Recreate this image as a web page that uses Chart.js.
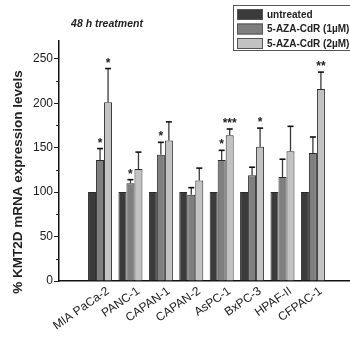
<!DOCTYPE html>
<html>
<head>
<meta charset="utf-8">
<script src="https://cdn.jsdelivr.net/npm/chart.js@4"></script>
<style>
  html, body { margin: 0; padding: 0; background: #fff; }
  #wrap { width: 350px; height: 340px; }
</style>
</head>
<body>
<div id="wrap"><canvas id="myCanvas" width="350" height="340"></canvas></div>
<script>
const cellLines = ['MIA PaCa-2', 'PANC-1', 'CAPAN-1', 'CAPAN-2', 'AsPC-1', 'BxPC-3', 'HPAF-II', 'CFPAC-1'];

const untreated = [100, 100, 100, 100, 100, 100, 100, 100];
const aza1 = [136, 110, 142, 97, 136, 119, 117, 144];
const aza2 = [201, 126, 158, 113, 164, 151, 146, 216];

const untreatedErr = [0, 0, 0, 0, 0, 0, 0, 0];
const aza1Err = [13, 4, 14, 8, 11, 9, 20, 18];
const aza2Err = [38, 19, 21, 14, 7, 21, 28, 19];

const aza1Stars = ['*', '*', '*', '', '*', '', '', ''];
const aza2Stars = ['*', '', '', '', '***', '*', '', '**'];

const yTicks = [0, 50, 100, 150, 200, 250];

const seriesNames = ['untreated', '5-AZA-CdR (1\u00b5M)', '5-AZA-CdR (2\u00b5M)'];
const seriesColors = ['#3b3b3b', '#7f7f7f', '#c2c2c2'];

const toPoints = vals => vals.map((v, i) => ({ x: i, y: v }));

const errPlugin = {
  id: 'errs',
  afterDatasetsDraw(chart) {
    const ctx = chart.ctx;
    const ys = chart.scales.y;
    const errs = [untreatedErr, aza1Err, aza2Err];
    const stars = [null, aza1Stars, aza2Stars];
    chart.data.datasets.forEach((ds, di) => {
      const meta = chart.getDatasetMeta(di);
      meta.data.forEach((bar, i) => {
        const e = errs[di][i];
        if (!e) return;
        const top = ys.getPixelForValue(ds.data[i].y + e);
        ctx.save();
        ctx.strokeStyle = '#3a3a3a';
        ctx.lineWidth = 1.3;
        ctx.beginPath();
        ctx.moveTo(bar.x, bar.y);
        ctx.lineTo(bar.x, top);
        ctx.stroke();
        ctx.strokeStyle = '#111';
        ctx.lineWidth = 1.6;
        ctx.beginPath();
        ctx.moveTo(bar.x - 3, top);
        ctx.lineTo(bar.x + 3, top);
        ctx.stroke();
        const s = stars[di] && stars[di][i];
        if (s) {
          ctx.fillStyle = '#222';
          ctx.font = 'bold 12px "Liberation Sans", Arial';
          ctx.textAlign = 'center';
          ctx.textBaseline = 'alphabetic';
          ctx.fillText(s, bar.x, top - 2);
        }
        ctx.restore();
      });
    });
  },
  afterDraw(chart) {
    const ctx = chart.ctx;
    const ys = chart.scales.y;
    const left = chart.chartArea.left;
    ctx.save();
    // minor ticks
    ctx.strokeStyle = '#222';
    ctx.lineWidth = 1;
    for (let v = 25; v < 270; v += 50) {
      const py = Math.round(ys.getPixelForValue(v)) + 0.5;
      ctx.beginPath();
      ctx.moveTo(left - 3, py);
      ctx.lineTo(left, py);
      ctx.stroke();
    }
    // title
    ctx.fillStyle = '#222';
    ctx.font = 'italic bold 10.5px "Liberation Sans", Arial';
    ctx.textAlign = 'center';
    ctx.textBaseline = 'middle';
    ctx.fillText('48 h treatment', 107, 24);
    // y title
    ctx.save();
    ctx.translate(18, 182);
    ctx.rotate(-Math.PI / 2);
    ctx.font = 'bold 13.5px "Liberation Sans", Arial';
    ctx.fillText('% KMT2D mRNA expression levels', 0, 0);
    ctx.restore();
    // legend box
    ctx.fillStyle = '#fff';
    ctx.fillRect(233.5, 5.5, 120, 45);
    ctx.strokeStyle = '#555';
    ctx.lineWidth = 1;
    ctx.strokeRect(233.5, 5.5, 120, 45);
    seriesNames.forEach((n, i) => {
      const y = 9 + i * 14.5;
      ctx.fillStyle = seriesColors[i];
      ctx.fillRect(237, y, 26, 11);
      ctx.strokeStyle = '#555';
      ctx.strokeRect(237.5, y + 0.5, 25, 10);
      ctx.fillStyle = '#222';
      ctx.textAlign = 'left';
      ctx.font = 'bold 10px "Liberation Sans", Arial';
      ctx.fillText(n, 267, y + 6);
    });
    ctx.restore();
  }
};

new Chart(document.getElementById('myCanvas'), {
  type: 'bar',
  data: {
    datasets: seriesNames.map((n, i) => ({
      label: n,
      data: toPoints([untreated, aza1, aza2][i]),
      backgroundColor: seriesColors[i],
      borderColor: '#2a2a2a',
      borderWidth: 1,
      categoryPercentage: 0.79,
      barPercentage: 1
    }))
  },
  options: {
    responsive: false,
    animation: false,
    layout: { padding: { top: 41, left: 0, right: 0, bottom: 0 } },
    plugins: { legend: { display: false }, tooltip: { enabled: false } },
    scales: {
      x: {
        type: 'linear',
        offset: false,
        min: -1.35,
        max: 8.22,
        afterBuildTicks: s => { s.ticks = cellLines.map((c, i) => ({ value: i })); },
        afterFit: s => { s.height = 59; },
        grid: { display: false, drawTicks: false },
        border: { color: '#111', width: 1.5 },
        ticks: {
          autoSkip: false,
          minRotation: 35,
          maxRotation: 35,
          padding: 3,
          labelOffset: 8,
          color: '#222',
          font: { family: '"Liberation Sans", Arial', size: 12 },
          callback: v => cellLines[v]
        }
      },
      y: {
        min: 0,
        max: 270,
        afterBuildTicks: s => { s.ticks = yTicks.map(v => ({ value: v })); },
        afterFit: s => { s.width = 59; },
        grid: { drawOnChartArea: false, tickLength: 5, tickColor: '#222' },
        border: { color: '#111', width: 1.5 },
        ticks: {
          padding: 1,
          color: '#222',
          font: { family: '"Liberation Sans", Arial', size: 12 }
        }
      }
    }
  },
  plugins: [errPlugin]
});
</script>
</body>
</html>
